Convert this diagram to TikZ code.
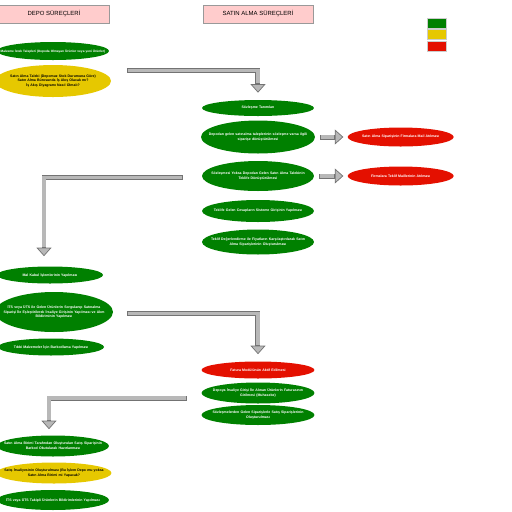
\documentclass[tikz,border=0pt]{standalone}
\usepackage{fontspec}
\setmainfont{Liberation Sans}
\usetikzlibrary{shapes.geometric,arrows.meta,positioning,calc}
\definecolor{okgreen}{RGB}{0,128,0}
\definecolor{askyellow}{RGB}{230,200,0}
\definecolor{nogored}{RGB}{228,16,0}
\definecolor{headpink}{RGB}{255,204,204}
\begin{document}
\begin{tikzpicture}[
  x=0.02cm, y=-0.02cm,
  font=\fontsize{2.0}{2.7}\selectfont\bfseries,
  header/.style={draw=black!40, fill=headpink, minimum width=2.2cm, minimum height=0.36cm,
                 inner sep=0pt, font=\fontsize{3.4}{4}\selectfont},
  legend/.style={draw=black!20, minimum width=0.38cm, minimum height=0.2cm, inner sep=0pt},
  task/.style={ellipse, fill=okgreen, text=white, align=center, text width=2.6cm,
               inner xsep=-0.55cm, inner ysep=0pt, minimum width=2.24cm},
  askTask/.style={task, fill=askyellow, text=black},
  stopTask/.style={task, fill=nogored},
  flow/.style={line width=0.1cm, draw=black!55, line join=miter,
               -{Triangle[length=0.17cm, width=0.3cm, line width=0.4pt, fill=black!28]},
               postaction={draw=black!28, line width=0.065cm, arrows=-,
                           shorten <=0.4pt, shorten >=0.19cm}},
]
\useasboundingbox (0,0) rectangle (512,512);

% --- headers and legend ---
\node[header] (hdepo)  at (54,14)  {DEPO SÜREÇLERİ};
\node[header] (hsatin) at (258,14) {SATIN ALMA SÜREÇLERİ};
\node[legend, fill=okgreen]   (leg1) at (436.5,23) {};
\node[legend, fill=askyellow] (leg2) at (436.5,34) {};
\node[legend, fill=nogored]   (leg3) at (436.5,46) {};

% --- depo, first part ---
\node[task, minimum height=0.36cm, font=\fontsize{1.8}{2.4}\selectfont\bfseries] (l1) at (53,51)
  {Malzeme İstek Talepleri (Depoda Olmayan Ürünler veya yeni Ürünler)};
\node[askTask, minimum width=2.32cm, minimum height=0.64cm] (l2) at (53,81)
  {Satın Alma Talebi (Depomuz Stok Durumuna Göre)\\Satın Alma Bürosunda İş Akış Olacak mı?\\İş Akış Diyagramı Nasıl Olmalı?};

% --- satin alma, first part ---
\node[task, minimum height=0.32cm] (r1) at (258,108) {Sözleşme Tanımları};
\node[task, minimum width=2.28cm, minimum height=0.66cm] (r2) at (258,137)
  {Depodan gelen satınalma taleplerinin sözleşme varsa ilgili\\siparişe dönüştürülmesi};
\node[task, minimum height=0.6cm] (r3) at (258,176)
  {Sözleşmesi Yoksa Depodan Gelen Satın Alma Talebinin\\Teklife Dönüştürülmesi};
\node[task, minimum height=0.44cm] (r4) at (258,211)
  {Teklife Gelen Cevapların Sisteme Girişinin Yapılması};
\node[task, minimum height=0.5cm] (r5) at (258,242)
  {Teklif Değerlendirme ile Fiyatların Karşılaştırılarak Satın\\Alma Siparişlerinin Oluşturulması};
\node[stopTask, minimum width=2.1cm, minimum height=0.38cm, right=0.64cm of r2] (red1)
  {Satın Alma Siparişinin Firmalara Mail Atılması};
\node[stopTask, minimum width=2.1cm, minimum height=0.38cm, right=0.66cm of r3] (red2)
  {Firmalara Teklif Maillerinin Atılması};

% --- depo, second part ---
\node[task, minimum width=2.04cm, minimum height=0.34cm] (l3) at (50,275)
  {Mal Kabul İşlemlerinin Yapılması};
\node[task, minimum width=2.36cm, minimum height=0.8cm] (l4) at (54,312)
  {İTS veya ÜTS ile Gelen Ürünlerin Sorgulanıp Satınalma\\Siparişi İle Eşleştirilerek İrsaliye Girişinin Yapılması ve Alım\\Bildiriminin Yapılması};
\node[task, minimum width=2.04cm, minimum height=0.34cm] (l5) at (51,347)
  {Tıbbi Malzemeler İçin Barkodlama Yapılması};

% --- satin alma, second part ---
\node[stopTask, minimum width=2.26cm, minimum height=0.34cm] (r6) at (258,370)
  {Fatura Modülünün Aktif Edilmesi};
\node[task, minimum width=2.26cm, minimum height=0.42cm] (r7) at (258,393)
  {Depoya İrsaliye Girişi İle Alınan Ürünlerin Faturasının\\Girilmesi (Muhasebe)};
\node[task, minimum width=2.26cm, minimum height=0.4cm] (r8) at (258,415)
  {Sözleşmelerden Gelen Siparişlerle Satış Siparişlerinin\\Oluşturulması};

% --- depo, last part ---
\node[task, minimum height=0.42cm] (l6) at (53,446)
  {Satın Alma Birimi Tarafından Oluşturulan Satış Siparişinin\\Barkod Okutularak Hazırlanması};
\node[askTask, minimum width=2.3cm, minimum height=0.42cm] (l7) at (54,473)
  {Satış İrsaliyesinin Oluşturulması (Bu İşlem Depo mu yoksa\\Satın Alma Birimi mi Yapacak?};
\node[task, minimum height=0.4cm] (l8) at (53,500)
  {İTS veya ÜTS Takipli Ürünlerin Bildirimlerinin Yapılması};

% --- flow arrows between the two columns ---
\coordinate (a1s) at (127,70.5);
\coordinate (a1e) at ($(r1.north)+(0,-7)$);
\coordinate (a2s) at (183,177.5);
\coordinate (a2e) at ($(l3.north)+(-6,-10)$);
\coordinate (a3s) at (127,313.5);
\coordinate (a3e) at ($(r6.north)+(0,-7)$);
\coordinate (a4s) at (187,398);
\coordinate (a4e) at ($(l6.north)+(-4,-6)$);
\draw[flow] (a1s) -| (a1e);
\draw[flow] (a2s) -| (a2e);
\draw[flow] (a3s) -| (a3e);
\draw[flow] (a4s) -| (a4e);
\draw[flow] ([xshift=0.1cm]r2.east) -- ([xshift=-0.08cm]red1.west);
\draw[flow] ([xshift=0.1cm]r3.east) -- ([xshift=-0.08cm]red2.west);

\end{tikzpicture}
\end{document}
